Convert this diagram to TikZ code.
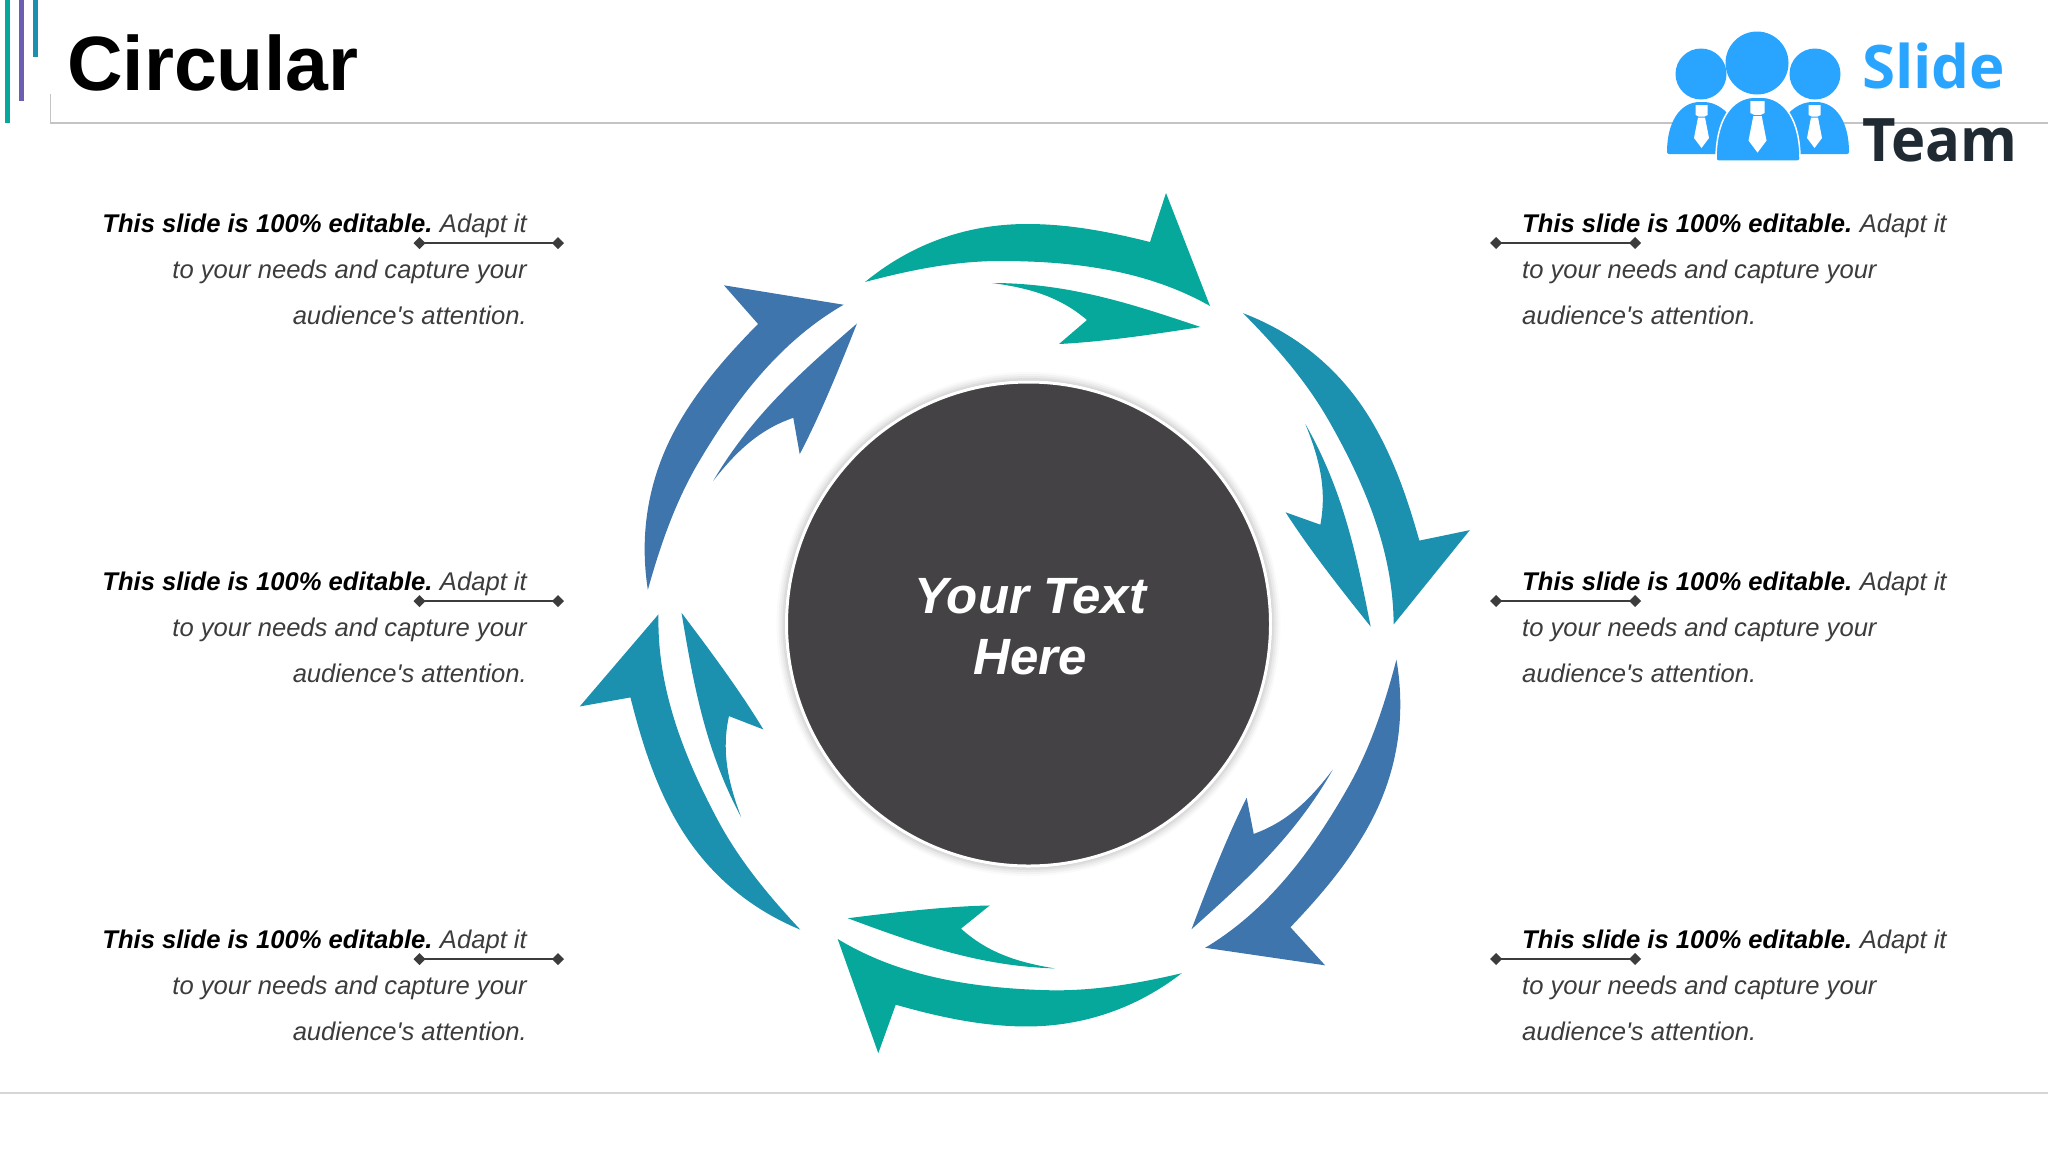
\documentclass[tikz,border=0pt]{standalone}
\usepackage{fontspec}
\setmainfont{Liberation Sans}
\newfontfamily\logofont{Open Sans}
\usetikzlibrary{arrows.meta}
\definecolor{teal1}{HTML}{05A89A}
\definecolor{cyan1}{HTML}{1B90AF}
\definecolor{steel1}{HTML}{3F75AD}
\definecolor{purple1}{HTML}{6A5FB0}
\definecolor{hubgray}{HTML}{444245}
\definecolor{notegray}{HTML}{3C3C3C}
\definecolor{rulegray}{HTML}{C4C4C4}
\definecolor{logoblue}{HTML}{2AA5FF}
\definecolor{logodark}{HTML}{1F2A33}
\tikzset{
  notel/.style={anchor=north east,align=right,inner sep=0pt,text=notegray,
    font=\fontsize{25.6}{46}\selectfont\itshape},
  noter/.style={anchor=north west,align=left,inner sep=0pt,text=notegray,
    font=\fontsize{25.6}{46}\selectfont\itshape},
  link/.style={draw=notegray,line width=2pt,
    {Diamond[length=12pt,width=12pt]}-{Diamond[length=12pt,width=12pt]}},
  hubnode/.style={circle,fill=hubgray,draw=white,line width=3pt,minimum size=484pt,inner sep=0pt},
  hubtext/.style={align=center,text=white,inner sep=0pt,
    font=\fontsize{51}{61}\selectfont\bfseries\itshape},
  logotext/.style={anchor=base west,inner sep=0pt,font=\fontsize{60}{60}\selectfont\logofont\bfseries},
  tie/.style={fill=white}
}
\newcommand{\notehead}{{\color{black}\bfseries This slide is 100\% editable.}\hspace{-2pt} Adapt it}
\begin{document}
\begin{tikzpicture}[x=1pt,y=-1pt]
  \useasboundingbox (0,0) rectangle (2048,1152);
  % header rules
  \fill[teal1] (4.6,0) rectangle (10,123);
  \fill[purple1] (18.8,0) rectangle (24,101);
  \fill[cyan1] (33,0) rectangle (38.4,57);
  \draw[rulegray,line width=1.5pt] (50.5,94) -- (50.5,123) -- (2048,123);
  \draw[rulegray!70,line width=1.5pt] (0,1093) -- (2048,1093);
  \node[anchor=base west,inner sep=0pt,font=\fontsize{77}{77}\selectfont\bfseries] (title) at (67,90) {Circular};

  % logo
  \fill[logoblue] (1701,74) circle (25.5);
  \fill[logoblue] (1815,74) circle (25.5);
  \fill[logoblue] (1757,63) circle (31.5);
  \fill[logoblue,rounded corners=2pt] (1667,154) .. controls (1667,122) and (1680,102) .. (1702,102)
    .. controls (1715,102) and (1728,110) .. (1735,125) -- (1735,154) -- cycle;
  \fill[logoblue,rounded corners=2pt] (1849,154) .. controls (1849,122) and (1836,102) .. (1814,102)
    .. controls (1801,102) and (1788,110) .. (1781,125) -- (1781,154) -- cycle;
  \filldraw[logoblue,draw=white,line width=1.5pt,rounded corners=2pt] (1716,161) .. controls (1716,122) and (1730,97) .. (1758,97)
    .. controls (1786,97) and (1800,122) .. (1800,161) -- cycle;
  \foreach \tiex/\tiey/\tiew in {1701.5/105/1,1814.5/105/1,1757.5/101/1.2}{
    \fill[tie,shift={(\tiex,\tiey)},scale=\tiew]
      (-6,0) -- (6,0) -- (6,10) -- (3,11.5) -- (-3,11.5) -- (-6,10) -- cycle
      (-3.5,12.5) -- (3.5,12.5) -- (7.5,33) -- (0,43) -- (-7.5,33) -- cycle;
  }
  \node[logotext,text=logoblue] (slide) at (1862,88) {Slide};
  \node[logotext,text=logodark,xscale=.965,transform shape] (team) at (1862,161) {Team};

  % arrows
  \foreach \ang/\dx/\dy/\col in {0/0/0/teal1,-60.2/-1/1/cyan1,-119.6/-10.2/8.9/steel1,-181.7/0/2.5/teal1,-241.8/-4/0/cyan1,-300.5/-3/-1.5/steel1}{
    \begin{scope}[shift={(\dx,\dy)},rotate around={\ang:(1028.5,624)}]
      \fill[\col] (865,282) .. controls (910,245) and (965,224) .. (1027,224)
        .. controls (1070,224) and (1110,232) .. (1150,242)
        -- (1166,193) -- (1210,306)
        .. controls (1150,272) and (1080,261) .. (1000,261)
        .. controls (955,261) and (910,270) .. cycle;
      \fill[\col] (992,283) .. controls (1070,283) and (1135,305) .. (1200.5,327)
        .. controls (1150,335) and (1100,342) .. (1059,344)
        -- (1087,320) .. controls (1060,297) and (1030,288) .. cycle;
    \end{scope}
  }

  % centre
  \foreach \rad/\opac in {252/.02,250/.03,248/.04,246/.05,244/.06}{
    \fill[black,opacity=\opac] (1028.5,624) circle (\rad);
  }
  \node[hubnode] (hub) at (1028.5,624) {};
  \node[hubtext,xshift=2pt,yshift=-3pt] (hubt) at (hub) {Your Text\\Here};

  % notes
  \foreach \row/\ypos in {1/0,2/358,3/716}{
    \node[notel] (notel\row) at (527,214+\ypos) {\notehead\\to your needs and capture your\\audience\textquotesingle s attention.\hspace{2pt}};
    \node[noter] (noter\row) at (1522,214+\ypos) {\notehead\\to your needs and capture your\\audience\textquotesingle s attention.};
    \coordinate (la\row) at (413.5,243+\ypos);
    \coordinate (lb\row) at (564,243+\ypos);
    \coordinate (ra\row) at (1490,243+\ypos);
    \coordinate (rb\row) at (1641,243+\ypos);
    \draw[link] (la\row) -- (lb\row);
    \draw[link] (ra\row) -- (rb\row);
  }
\end{tikzpicture}
\end{document}
